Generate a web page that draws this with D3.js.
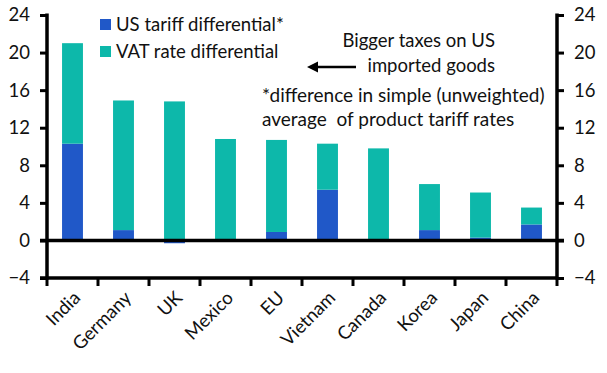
<!DOCTYPE html>
<html>
<head>
<meta charset="utf-8">
<script src="https://d3js.org/d3.v7.min.js"></script>
<style>
  body { margin: 0; background: #fff; }
  text { font-family: Lato, "Noto Sans", sans-serif; fill: #111; }
</style>
</head>
<body>
<script>
const countries = ['India','Germany','UK','Mexico','EU','Vietnam','Canada','Korea','Japan','China']
const usTariff = [10.3, 1.1, -0.3, 0.05, 0.9, 5.4, 0.0, 1.1, 0.3, 1.7]
const vatRate  = [10.7, 13.8, 14.8, 10.75, 9.8, 4.9, 9.8, 4.9, 4.8, 1.8]
const yTicks = [-4, 0, 4, 8, 12, 16, 20, 24]
const seriesNames = ['US tariff differential*', 'VAT rate differential']
const colors = ['#2058c8', '#0db8aa']

const W = 607, H = 373
const m = {left: 47, right: 50, top: 15, bottom: 95}
const fs = '18.5px'

const svg = d3.select('body').append('svg').attr('width', W).attr('height', H)

const x = d3.scaleBand().domain(countries).range([m.left, W - m.right]).paddingInner(0.59).paddingOuter(0.295)
const xEdge = d3.scaleBand().domain(countries).range([m.left, W - m.right])
const y = d3.scaleLinear().domain([-4, 24]).range([H - m.bottom, m.top])

const rows = countries.map((c, i) => ({country: c, us: usTariff[i], vat: vatRate[i]}))
const stack = d3.stack().keys(['us', 'vat']).offset(d3.stackOffsetDiverging)(rows)

// bars
svg.append('g').selectAll('g').data(stack).join('g')
  .attr('fill', (d, i) => colors[i])
  .selectAll('rect').data(d => d).join('rect')
    .attr('x', d => x(d.data.country))
    .attr('width', x.bandwidth())
    .attr('y', d => y(Math.max(d[0], d[1])))
    .attr('height', d => Math.abs(y(d[0]) - y(d[1])))

// left / right axes
const left = d3.axisLeft(y).tickValues(yTicks).tickSize(7).tickPadding(10)
const right = d3.axisRight(y).tickValues(yTicks).tickSize(7).tickPadding(10)
function styleAxis(g) {
  g.select('.domain').remove()
  g.selectAll('.tick line').attr('stroke', '#000').attr('stroke-width', 3)
  g.selectAll('.tick text').style('font-size', fs)
}
svg.append('g').attr('transform', `translate(${m.left},0)`).call(left).call(styleAxis)
svg.append('g').attr('transform', `translate(${W - m.right},0)`).call(right).call(styleAxis)

svg.append('line').attr('x1', m.left).attr('x2', m.left).attr('y1', y(24) - 1.5).attr('y2', y(-4) + 1.5)
  .attr('stroke', '#000').attr('stroke-width', 3.5)
svg.append('line').attr('x1', W - m.right).attr('x2', W - m.right).attr('y1', y(24) - 1.5).attr('y2', y(-4) + 1.5)
  .attr('stroke', '#000').attr('stroke-width', 3.5)

// zero line and bottom axis
svg.append('line').attr('x1', m.left - 7).attr('x2', W - m.right + 7).attr('y1', y(0)).attr('y2', y(0))
  .attr('stroke', '#000').attr('stroke-width', 3.5)
svg.append('line').attr('x1', m.left - 7).attr('x2', W - m.right).attr('y1', y(-4)).attr('y2', y(-4))
  .attr('stroke', '#000').attr('stroke-width', 3.5)

const edges = countries.map(c => xEdge(c)).concat([W - m.right])
svg.append('g').selectAll('line').data(edges).join('line')
  .attr('x1', d => d).attr('x2', d => d).attr('y1', y(-4)).attr('y2', y(-4) + 8)
  .attr('stroke', '#000').attr('stroke-width', 3)

svg.append('g').selectAll('text').data(countries).join('text')
  .attr('transform', d => `translate(${x(d) + x.bandwidth() / 2 + 9},${y(-4) + 21}) rotate(-45)`)
  .attr('text-anchor', 'end')
  .style('font-size', fs)
  .text(d => d)

// legend
const lg = svg.append('g').attr('transform', 'translate(100,19)')
seriesNames.forEach((s, i) => {
  lg.append('rect').attr('x', 0).attr('y', i * 27).attr('width', 11).attr('height', 11).attr('fill', colors[i])
  lg.append('text').attr('x', 16).attr('y', i * 27 + 12).style('font-size', fs).text(s)
})

// annotations
svg.append('text').attr('x', 495).attr('y', 47).attr('text-anchor', 'end').style('font-size', fs).text('Bigger taxes on US')
svg.append('text').attr('x', 495).attr('y', 72).attr('text-anchor', 'end').style('font-size', fs).text('imported goods')
svg.append('defs').append('marker').attr('id', 'ah').attr('viewBox', '0 0 10 10')
  .attr('refX', 1).attr('refY', 5).attr('markerWidth', 4.5).attr('markerHeight', 4.5).attr('orient', 'auto-start-reverse')
  .append('path').attr('d', 'M0,0L10,5L0,10z').attr('fill', '#000')
svg.append('line').attr('x1', 356).attr('x2', 317).attr('y1', 67).attr('y2', 67)
  .attr('stroke', '#000').attr('stroke-width', 2.5).attr('marker-end', 'url(#ah)')

svg.append('text').attr('x', 262).attr('y', 102).style('font-size', '19px').text('*difference in simple (unweighted)')
svg.append('text').attr('x', 262).attr('y', 126).style('font-size', '19px').attr('xml:space', 'preserve').text('average  of product tariff rates')
</script>
</body>
</html>
